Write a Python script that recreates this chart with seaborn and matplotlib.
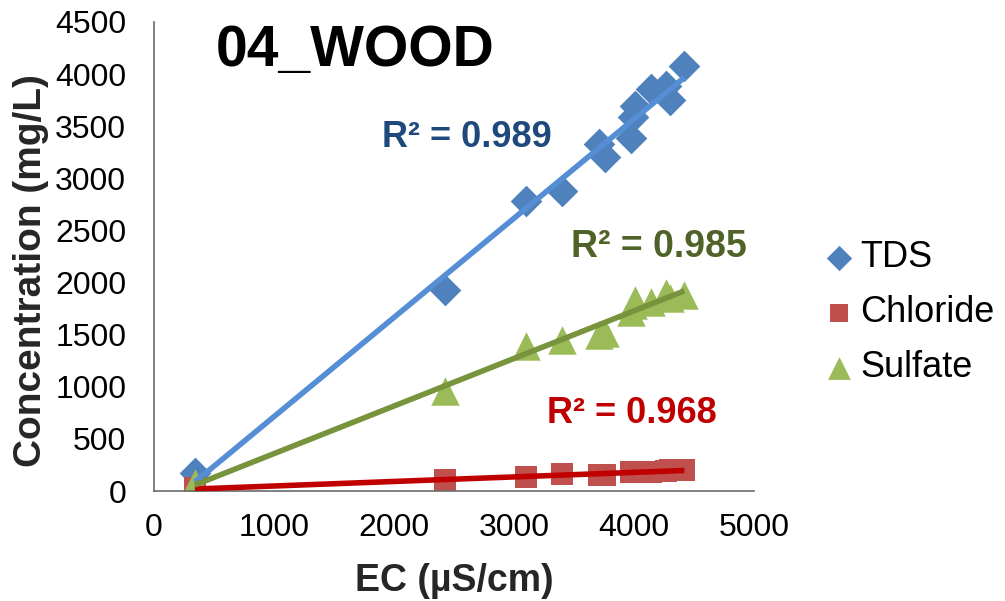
import matplotlib
matplotlib.use("Agg")
import matplotlib.pyplot as plt
import seaborn as sns
import pandas as pd
import numpy as np

# ---- data ----
ec = [341, 2424, 3102, 3404, 3710, 3758, 3975, 3992, 4008, 4145, 4270, 4300, 4420]
tds = [170, 1930, 2787, 2880, 3325, 3205, 3383, 3590, 3690, 3855, 3890, 3750, 4075]
chloride = [25, 105, 137, 159, 150, 153, 180, 182, 186, 185, 192, 198, 205]
sulfate = [75, 960, 1390, 1450, 1500, 1515, 1720, 1780, 1830, 1810, 1900, 1850, 1880]
series_names = ["TDS", "Chloride", "Sulfate"]
r2_labels = ["R² = 0.989", "R² = 0.968", "R² = 0.985"]
x_ticks = [0, 1000, 2000, 3000, 4000, 5000]
y_ticks = [0, 500, 1000, 1500, 2000, 2500, 3000, 3500, 4000, 4500]
title = "04_WOOD"

df = pd.DataFrame({
    "EC": ec * 3,
    "value": tds + chloride + sulfate,
    "species": [n for n in series_names for _ in ec],
})

sns.set_theme(style="white")
plt.rcParams["font.family"] = ["Liberation Sans", "DejaVu Sans"]

fig = plt.figure(figsize=(10.05, 6.01), dpi=100)
ax = fig.add_axes([0.1532, 0.183, 0.597, 0.7804])

marker_color = {"TDS": "#4F81BD", "Chloride": "#C0504D", "Sulfate": "#9BBB59"}
line_color = {"TDS": "#558ED5", "Chloride": "#C00000", "Sulfate": "#77933C"}
markers = {"TDS": "D", "Chloride": "s", "Sulfate": "^"}
sizes = {"TDS": 260, "Chloride": 250, "Sulfate": 420}

for name in series_names:
    sub = df[df["species"] == name]
    sns.scatterplot(data=sub, x="EC", y="value", ax=ax, marker=markers[name],
                    color=marker_color[name], s=sizes[name], linewidth=0,
                    label=name, zorder=2)

for name in series_names:
    sub = df[df["species"] == name]
    sns.regplot(data=sub, x="EC", y="value", ax=ax, scatter=False, ci=None,
                truncate=True, color=line_color[name],
                line_kws={"linewidth": 4, "zorder": 3, "solid_capstyle": "butt"})

ax.set_xlim(0, 5000)
ax.set_ylim(0, 4500)
ax.set_xticks(x_ticks)
ax.set_yticks(y_ticks)
ax.tick_params(axis="both", which="both", direction="out", length=7, width=1.2,
               color="#6b6b6b", labelsize=23, labelcolor="black")
ax.tick_params(axis="x", pad=9)
ax.tick_params(axis="y", pad=13)
for side in ["top", "right"]:
    ax.spines[side].set_visible(False)
for side in ["left", "bottom"]:
    ax.spines[side].set_color("#6b6b6b")
    ax.spines[side].set_linewidth(1.2)

ax.set_xlabel("EC (µS/cm)", fontsize=27, fontweight="bold", labelpad=14)
ax.set_ylabel("Concentration (mg/L)", fontsize=28, fontweight="bold")
ax.yaxis.set_label_coords(-0.175, 0.47)

# title inside plot
ax.text(515, 4225, title, fontsize=41, fontweight="bold", color="black",
        ha="left", va="center")

# R² annotations
ax.text(2608, 3395, r2_labels[0], fontsize=26, fontweight="bold", color="#1F497D",
        ha="center", va="center")
ax.text(4210, 2345, r2_labels[2], fontsize=27, fontweight="bold", color="#4F6228",
        ha="center", va="center")
ax.text(3980, 745, r2_labels[1], fontsize=26, fontweight="bold", color="#C00000",
        ha="center", va="center")

leg = ax.legend(loc="center left", bbox_to_anchor=(1.06, 0.38), frameon=False,
                fontsize=26, markerscale=0.8, handletextpad=0.15,
                labelspacing=0.55, handlelength=0.9)
for t in leg.get_texts():
    t.set_color("black")

fig.savefig("out.png", dpi=100)
